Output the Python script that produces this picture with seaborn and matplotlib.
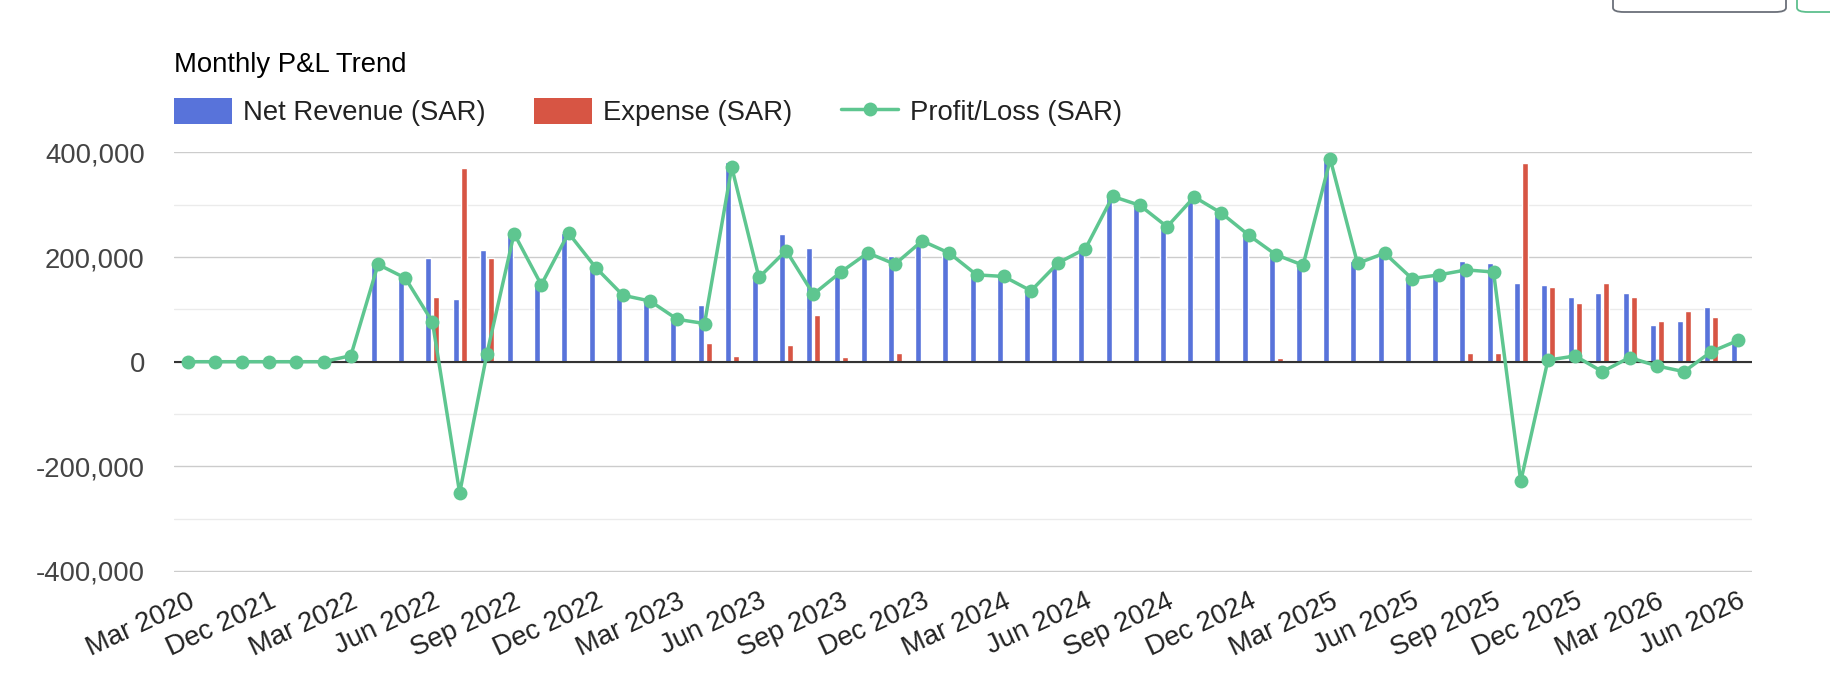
import matplotlib
matplotlib.use("Agg")
import matplotlib.pyplot as plt
from matplotlib.patches import Patch, FancyBboxPatch
from matplotlib.lines import Line2D
import seaborn as sns
import pandas as pd

# -----------------------------
# Data
# -----------------------------
months = [
    "Mar 2020", "Oct 2021", "Nov 2021", "Dec 2021", "Jan 2022", "Feb 2022",
    "Mar 2022", "Apr 2022", "May 2022", "Jun 2022", "Jul 2022", "Aug 2022",
    "Sep 2022", "Oct 2022", "Nov 2022", "Dec 2022", "Jan 2023", "Feb 2023",
    "Mar 2023", "Apr 2023", "May 2023", "Jun 2023", "Jul 2023", "Aug 2023",
    "Sep 2023", "Oct 2023", "Nov 2023", "Dec 2023", "Jan 2024", "Feb 2024",
    "Mar 2024", "Apr 2024", "May 2024", "Jun 2024", "Jul 2024", "Aug 2024",
    "Sep 2024", "Oct 2024", "Nov 2024", "Dec 2024", "Jan 2025", "Feb 2025",
    "Mar 2025", "Apr 2025", "May 2025", "Jun 2025", "Jul 2025", "Aug 2025",
    "Sep 2025", "Oct 2025", "Nov 2025", "Dec 2025", "Jan 2026", "Feb 2026",
    "Mar 2026", "Apr 2026", "May 2026", "Jun 2026",
]

net_revenue = [
    0, 0, 0, 0, 0, 0,
    11500, 186000, 160000, 199000, 119000, 214000,
    245000, 147000, 246000, 180000, 127000, 116000,
    81000, 108000, 382000, 161000, 244000, 218000,
    180000, 208000, 203000, 231000, 207500, 166000,
    163000, 135500, 189000, 216000, 316000, 299000,
    258000, 315000, 284000, 242000, 211000, 184500,
    387000, 192000, 207500, 159000, 166000, 192000,
    188000, 150000, 146000, 123000, 131000, 131000,
    70000, 78000, 104000, 41000,
]

expense = [
    0, 0, 0, 0, 0, 0,
    0, 0, 0, 123000, 370000, 199000,
    0, 0, 0, 0, 0, 0,
    0, 35000, 10000, 0, 31500, 89000,
    9000, 0, 16500, 0, 0, 0,
    0, 0, 0, 0, 0, 0,
    0, 0, 0, 0, 6500, 0,
    0, 4000, 0, 0, 0, 16500,
    16500, 379000, 143000, 112000, 150000, 123000,
    78000, 97000, 85000, 0,
]

profit_loss = [
    0, 0, 0, 0, 0, 0,
    11500, 186000, 160000, 76000, -251000, 15000,
    245000, 147000, 246000, 180000, 127000, 116000,
    81000, 73000, 372000, 161000, 212500, 129000,
    171000, 208000, 186500, 231000, 207500, 166000,
    163000, 135500, 189000, 216000, 316000, 299000,
    258000, 315000, 284000, 242000, 204500, 184500,
    387000, 188000, 207500, 159000, 166000, 175500,
    171500, -229000, 3000, 11000, -19000, 8000,
    -8000, -19000, 19000, 41000,
]

series_names = ["Net Revenue (SAR)", "Expense (SAR)", "Profit/Loss (SAR)"]
y_ticks = [-400000, -200000, 0, 200000, 400000]
y_minor = [-300000, -100000, 100000, 300000]

BLUE = "#5873DA"
RED = "#D75544"
GREEN = "#5EC690"

# long-form table for the grouped bars
bars = pd.DataFrame({
    "Month": months * 2,
    "Value": net_revenue + expense,
    "Series": [series_names[0]] * len(months) + [series_names[1]] * len(months),
})

# -----------------------------
# Style
# -----------------------------
sns.set_style("white")
plt.rcParams["font.family"] = ["Liberation Sans", "DejaVu Sans"]
FS = 19.8

W, H = 1830, 698
fig = plt.figure(figsize=(W / 100, H / 100), dpi=100)
ax = fig.add_axes([174 / W, 1 - 571.7 / H, 1578 / W, 420 / H])

# -----------------------------
# Bars + line
# -----------------------------
sns.barplot(data=bars, x="Month", y="Value", hue="Series", order=months,
            hue_order=series_names[:2], palette=[BLUE, RED], width=0.59,
            gap=0.25, saturation=1, errorbar=None, legend=False, ax=ax,
            zorder=2)

sns.pointplot(x=months, y=profit_loss, order=months, color=GREEN,
              markers="o", markersize=10, linewidth=2.5, markeredgewidth=0,
              errorbar=None, ax=ax, zorder=4)

ax.axhline(0, color="#333333", lw=1.5, zorder=3)

# axes / grid
ax.set_xlim(-0.5, len(months) - 0.5)
ax.set_ylim(-401500, 401500)
ax.set_yticks(y_ticks)
ax.set_yticklabels([f"{v:,}" for v in y_ticks])
ax.set_yticks(y_minor, minor=True)
ax.grid(axis="y", which="major", color="#cccccc", lw=1.0, zorder=0)
ax.grid(axis="y", which="minor", color="#ebebeb", lw=1.0, zorder=0)
ax.grid(axis="x", visible=False)
ax.set_axisbelow(True)
for s in ax.spines.values():
    s.set_visible(False)

ax.set_xticks(range(0, len(months), 3))
ax.set_xticklabels(months[::3])
ax.tick_params(axis="x", length=0, pad=12, labelsize=FS, labelcolor="#222222")
ax.tick_params(axis="y", which="both", length=0, pad=21, labelsize=FS,
               labelcolor="#444444")
plt.setp(ax.get_xticklabels(), rotation=25, ha="right", va="top",
         rotation_mode="anchor")

ax.set_xlabel("")
ax.set_ylabel("SAR", fontsize=FS, color="#222222")
ax.yaxis.set_label_coords(-0.113, 0.516)

# -----------------------------
# Title + legend
# -----------------------------
fig.text(174 / W, 1 - 72 / H, "Monthly P&L Trend", fontsize=FS, color="#000000",
         ha="left", va="baseline")

handles = [
    Patch(facecolor=BLUE, edgecolor="none"),
    Patch(facecolor=RED, edgecolor="none"),
    Line2D([0], [0], color=GREEN, lw=2.5, marker="o", markersize=10,
           markeredgewidth=0),
]
fig.legend(handles, series_names, loc="upper left",
           bbox_to_anchor=(174 / W, 1 - 98 / H), ncol=3, frameon=False,
           fontsize=FS, labelcolor="#222222", borderpad=0, borderaxespad=0,
           handlelength=2.1, handleheight=1.05, handletextpad=0.42,
           columnspacing=1.75)

# bits of page UI cut off at the top-right
fig.patches.append(FancyBboxPatch((1613 / W, 1 - 12 / H), 173 / W, 40 / H,
                                  boxstyle="round,pad=0,rounding_size=0.006",
                                  transform=fig.transFigure, facecolor="white",
                                  edgecolor="#6b7079", lw=1.3))
fig.patches.append(FancyBboxPatch((1797 / W, 1 - 12 / H), 60 / W, 40 / H,
                                  boxstyle="round,pad=0,rounding_size=0.006",
                                  transform=fig.transFigure, facecolor="white",
                                  edgecolor="#5dbf8d", lw=1.3))

fig.savefig("out.png", dpi=100)
